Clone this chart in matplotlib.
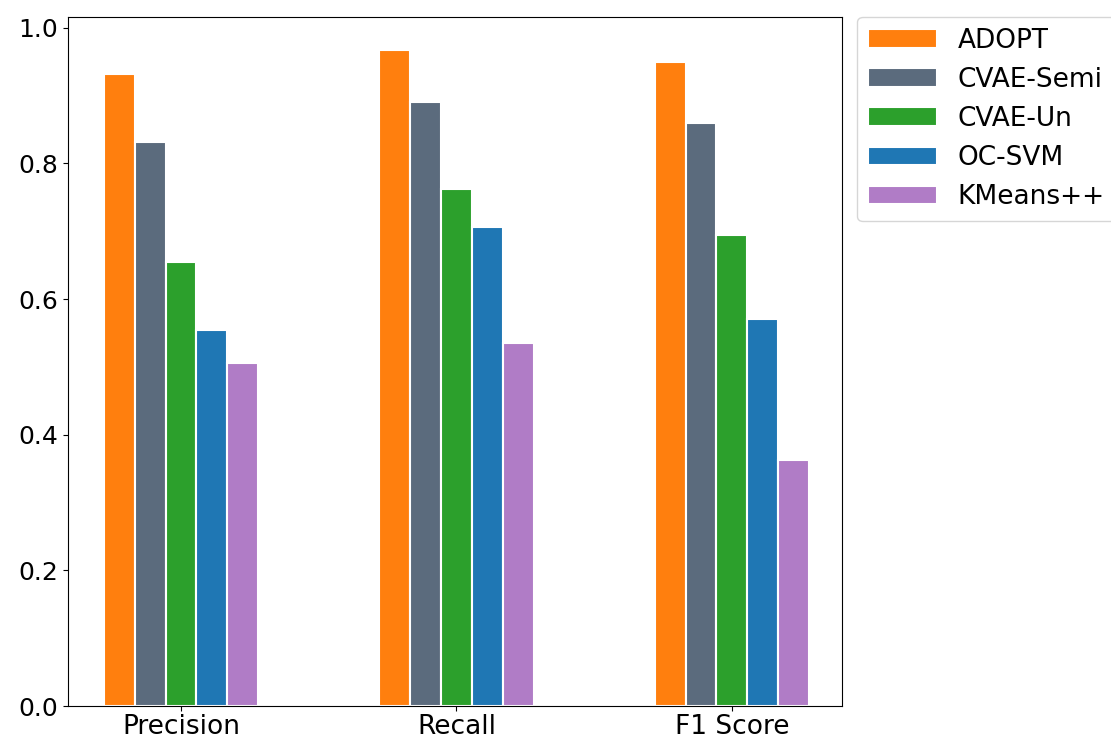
import numpy as np
import matplotlib.pyplot as plt

metrics = ["Precision", "Recall", "F1 Score"]
methods = ["ADOPT", "CVAE-Semi", "CVAE-Un", "OC-SVM", "KMeans++"]
adopt = [0.932, 0.968, 0.950]
cvae_semi = [0.832, 0.891, 0.859]
cvae_un = [0.654, 0.763, 0.694]
ocsvm = [0.554, 0.707, 0.571]
kmeans = [0.506, 0.535, 0.363]
colors = ["#ff7f0e", "#5b6b7d", "#2ca02c", "#1f77b4", "#b07cc6"]

fig = plt.figure(figsize=(11.11, 7.41), dpi=100)
ax = fig.add_axes([68/1111, 35/741, 774/1111, 689/741])
x = np.arange(len(metrics))
w = 0.112
for i, (vals, name) in enumerate(zip([adopt, cvae_semi, cvae_un, ocsvm, kmeans], methods)):
    ax.bar(x + (i - 2) * w, vals, w, color=colors[i], edgecolor="white", linewidth=1.5, label=name)
ax.set_xticks(x)
ax.set_xticklabels(metrics, fontsize=19)
ax.tick_params(axis="x", pad=2)
ax.tick_params(axis="y", labelsize=18)
ax.set_ylim(0, 1.016)
ax.set_xlim(-0.41, 2.40)
ax.legend(loc="upper left", bbox_to_anchor=(1.02, 1.0), fontsize=19, borderaxespad=0,
          handlelength=2.6, labelspacing=0.5, borderpad=0.4)
fig.savefig("out.png")
